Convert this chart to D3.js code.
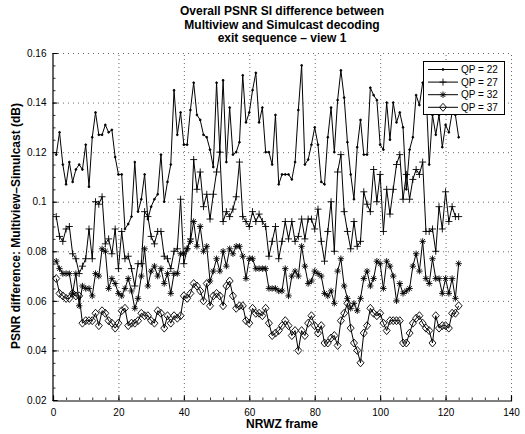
<!DOCTYPE html>
<html><head><meta charset="utf-8">
<script src="https://cdn.jsdelivr.net/npm/d3@7"></script>
<style>
html,body{margin:0;padding:0;background:#fff;}
svg{display:block;font-family:"Liberation Sans",Arial,Helvetica,sans-serif;}
</style></head>
<body><svg id="c" width="525" height="434"></svg>
<script>
const titleLines = ["Overall PSNR SI difference between","Multiview and Simulcast decoding","exit sequence \u2013 view 1"];
const xLabel = "NRWZ frame";
const yLabel = "PSNR difference: Multiview\u2013Simulcast (dB)";
const xTicks = [0,20,40,60,80,100,120,140];
const yTicks = [0.02,0.04,0.06,0.08,0.1,0.12,0.14,0.16];
const seriesNames = ["QP = 22","QP = 27","QP = 32","QP = 37"];
const markers = ["dot","plus","star","diamond"];

const qp22 = [0.119,0.128,0.115,0.107,0.116,0.108,0.113,0.115,0.113,0.123,0.106,0.126,0.136,0.127,0.127,0.131,0.128,0.129,0.118,0.111,
0.111,0.089,0.091,0.094,0.116,0.096,0.101,0.111,0.093,0.098,0.101,0.103,0.119,0.100,0.108,0.115,0.145,0.127,0.136,0.123,
0.123,0.137,0.148,0.135,0.133,0.127,0.126,0.121,0.114,0.148,0.120,0.149,0.116,0.138,0.119,0.120,0.124,0.151,0.132,0.136,
0.145,0.152,0.132,0.138,0.120,0.120,0.115,0.135,0.107,0.111,0.111,0.111,0.109,0.116,0.137,0.155,0.115,0.117,0.123,0.130,
0.123,0.108,0.107,0.126,0.138,0.120,0.141,0.153,0.142,0.124,0.111,0.101,0.122,0.133,0.119,0.119,0.146,0.143,0.141,0.123,
0.121,0.140,0.125,0.140,0.132,0.136,0.130,0.105,0.121,0.126,0.143,0.139,0.148,0.146,0.115,0.135,0.127,0.135,0.122,0.131,
0.128,0.136,0.135,0.126];
const qp27 = [0.094,0.086,0.084,0.089,0.090,0.079,0.077,0.071,0.074,0.077,0.089,0.077,0.100,0.099,0.102,0.083,0.085,0.079,0.089,0.073,
0.088,0.077,0.078,0.073,0.066,0.075,0.075,0.096,0.094,0.086,0.083,0.088,0.088,0.078,0.077,0.073,0.080,0.081,0.101,0.075,
0.081,0.085,0.117,0.105,0.112,0.098,0.103,0.093,0.103,0.112,0.120,0.092,0.096,0.094,0.097,0.102,0.116,0.094,0.092,0.090,
0.096,0.092,0.095,0.092,0.090,0.078,0.084,0.090,0.077,0.084,0.092,0.085,0.092,0.084,0.086,0.093,0.085,0.093,0.093,0.089,
0.097,0.084,0.076,0.088,0.100,0.080,0.112,0.119,0.096,0.088,0.081,0.092,0.082,0.084,0.104,0.099,0.096,0.113,0.100,0.111,
0.088,0.105,0.095,0.105,0.115,0.119,0.101,0.111,0.101,0.109,0.113,0.111,0.116,0.088,0.088,0.089,0.080,0.098,0.089,0.104,
0.092,0.098,0.094,0.094];
const qp32 = [0.076,0.073,0.071,0.071,0.071,0.063,0.071,0.058,0.066,0.065,0.065,0.062,0.071,0.070,0.081,0.080,0.065,0.069,0.067,0.063,
0.062,0.065,0.069,0.064,0.057,0.061,0.070,0.081,0.066,0.072,0.074,0.070,0.073,0.067,0.071,0.063,0.071,0.071,0.079,0.079,
0.081,0.084,0.092,0.082,0.090,0.080,0.082,0.068,0.072,0.077,0.072,0.080,0.074,0.081,0.079,0.082,0.082,0.078,0.069,0.077,
0.077,0.073,0.073,0.073,0.073,0.065,0.065,0.065,0.064,0.064,0.073,0.062,0.070,0.072,0.070,0.082,0.074,0.067,0.068,0.072,
0.071,0.070,0.063,0.062,0.064,0.059,0.072,0.077,0.066,0.061,0.057,0.059,0.056,0.061,0.069,0.072,0.066,0.069,0.076,0.075,
0.065,0.076,0.074,0.070,0.060,0.067,0.063,0.064,0.065,0.074,0.079,0.072,0.084,0.069,0.067,0.077,0.069,0.069,0.063,0.069,
0.063,0.069,0.061,0.075];
const qp37 = [0.069,0.063,0.062,0.061,0.061,0.063,0.062,0.062,0.051,0.052,0.052,0.052,0.055,0.050,0.056,0.055,0.052,0.051,0.049,0.051,
0.056,0.057,0.050,0.051,0.051,0.052,0.055,0.054,0.054,0.052,0.051,0.056,0.055,0.049,0.054,0.051,0.054,0.053,0.054,0.062,
0.061,0.063,0.067,0.066,0.064,0.060,0.067,0.058,0.062,0.063,0.062,0.058,0.066,0.068,0.062,0.057,0.058,0.058,0.052,0.051,
0.057,0.055,0.055,0.054,0.057,0.051,0.046,0.047,0.048,0.050,0.052,0.050,0.046,0.048,0.040,0.048,0.046,0.051,0.054,0.050,
0.047,0.050,0.043,0.043,0.045,0.046,0.042,0.052,0.055,0.059,0.049,0.043,0.040,0.035,0.047,0.050,0.057,0.055,0.054,0.055,
0.051,0.048,0.052,0.052,0.052,0.052,0.043,0.043,0.047,0.051,0.053,0.054,0.051,0.049,0.048,0.043,0.054,0.049,0.050,0.050,
0.049,0.055,0.055,0.058];
const frames = qp22.map((d,i)=>i+1);
const allSeries = [qp22,qp27,qp32,qp37];

const svg = d3.select("#c");
const x = d3.scaleLinear().domain([0,140]).range([53,511]);
const y = d3.scaleLinear().domain([0.02,0.16]).range([400,53]);

// grid
const g = svg.append("g");
g.selectAll("line.hg").data(yTicks.slice(1)).join("line")
  .attr("x1",x(0)).attr("x2",x(140)).attr("y1",d=>y(d)+0.5).attr("y2",d=>y(d)+0.5)
  .attr("stroke","#444").attr("stroke-width",0.8).attr("stroke-dasharray","1,4");
g.selectAll("line.vg").data(xTicks.slice(1)).join("line")
  .attr("x1",d=>x(d)+0.5).attr("x2",d=>x(d)+0.5).attr("y1",y(0.02)).attr("y2",y(0.16))
  .attr("stroke","#444").attr("stroke-width",0.8).attr("stroke-dasharray","1,3");

// axes
const xAxis = d3.axisBottom(x).tickValues(xTicks).tickSize(-5).tickPadding(8).tickFormat(d3.format("d"));
const yAxis = d3.axisLeft(y).tickValues(yTicks).tickSize(-5).tickPadding(8).tickFormat(d=>String(+d.toFixed(2)));
const xa = svg.append("g").attr("transform","translate(0,400.5)").call(xAxis);
const ya = svg.append("g").attr("transform","translate(52.5,0)").call(yAxis);
[xa,ya].forEach(a=>{
  a.select(".domain").attr("stroke","#000").attr("stroke-width",1.2);
  a.selectAll(".tick line").attr("stroke","#000");
  a.selectAll("text").attr("font-size",10).attr("fill","#000").attr("font-family","Liberation Sans, Arial, sans-serif");
});
ya.selectAll(".tick text").attr("dx","0.2em");
// minor ticks
const xMinor = d3.range(0,141,4);
svg.append("g").selectAll("line").data(xMinor).join("line")
  .attr("x1",d=>x(d)+0.5).attr("x2",d=>x(d)+0.5).attr("y1",400).attr("y2",397.5).attr("stroke","#000").attr("stroke-width",0.8);
const yMinor = d3.range(0.02,0.1601,0.005);
svg.append("g").selectAll("line").data(yMinor).join("line")
  .attr("x1",53).attr("x2",55.5).attr("y1",d=>y(d)+0.5).attr("y2",d=>y(d)+0.5).attr("stroke","#000").attr("stroke-width",0.8);

// title and labels
svg.append("g").selectAll("text").data(titleLines).join("text")
  .attr("x",282).attr("y",(d,i)=>15+i*13.5).attr("text-anchor","middle")
  .attr("font-size",12).attr("font-weight","bold").text(d=>d);
svg.append("text").attr("x",282).attr("y",428).attr("text-anchor","middle")
  .attr("font-size",12).attr("font-weight","bold").text(xLabel);
svg.append("text").attr("transform","translate(20,226) rotate(-90)").attr("text-anchor","middle")
  .attr("font-size",12).attr("font-weight","bold").text(yLabel);

// marker paths
function markerPath(type){
  if(type==="plus") return "M-3.5,0H3.5M0,-3.5V3.5";
  if(type==="star") return "M-3.2,0H3.2M0,-3.2V3.2M-2.3,-2.3L2.3,2.3M-2.3,2.3L2.3,-2.3";
  if(type==="diamond") return "M0,-4L3.5,0L0,4L-3.5,0Z";
  return "M-0.9,0A0.9,0.9 0 1,0 0.9,0A0.9,0.9 0 1,0 -0.9,0Z";
}
const line = d3.line().x((d,i)=>x(frames[i])).y(d=>y(d));
allSeries.forEach((s,k)=>{
  const sg = svg.append("g");
  sg.append("path").attr("d",line(s)).attr("fill","none").attr("stroke","#000").attr("stroke-width",1);
  sg.selectAll("path.m").data(s).join("path").attr("class","m")
    .attr("transform",(d,i)=>`translate(${x(frames[i])},${y(d)})`)
    .attr("d",markerPath(markers[k]))
    .attr("fill",markers[k]==="dot"?"#000":"none").attr("stroke","#000").attr("stroke-width",0.9);
});

// legend
const lg = svg.append("g");
lg.append("rect").attr("x",423.5).attr("y",61.5).attr("width",81).attr("height",53)
  .attr("fill","#fff").attr("stroke","#000").attr("stroke-width",1);
seriesNames.forEach((n,k)=>{
  const yy = 69.5 + k*12.6;
  lg.append("line").attr("x1",428).attr("x2",458).attr("y1",yy).attr("y2",yy).attr("stroke","#000").attr("stroke-width",1);
  lg.append("path").attr("transform",`translate(443,${yy})`).attr("d",markerPath(markers[k]))
    .attr("fill",markers[k]==="dot"?"#000":"none").attr("stroke","#000").attr("stroke-width",0.9);
  lg.append("text").attr("x",461).attr("y",yy+3.5).attr("font-size",10).text(n);
});
</script></body></html>
